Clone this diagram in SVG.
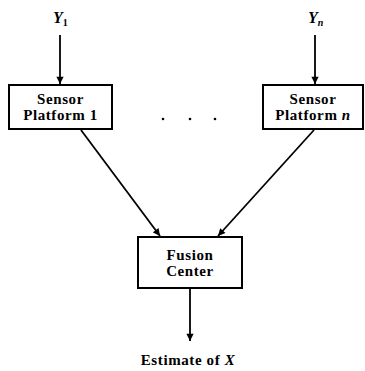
<svg xmlns="http://www.w3.org/2000/svg" width="365" height="371" viewBox="0 0 365 371">
  <style>
    .box { fill: #fff; stroke: #000; stroke-width: 2; }
    .lbl { font-family: "Liberation Serif", "Times New Roman", serif; font-weight: bold; font-size: 15px; letter-spacing: 0.6px; text-anchor: middle; fill: #000; }
    .var { font-family: "Liberation Serif", "Times New Roman", serif; font-weight: bold; font-style: italic; font-size: 16px; fill: #000; }
    .edge { stroke: #000; stroke-width: 1.8; fill: none; marker-end: url(#head); }
  </style>
  <defs>
    <marker id="head" viewBox="0 0 10 10" refX="10" refY="5" markerWidth="4.5" markerHeight="4" markerUnits="strokeWidth" orient="auto">
      <path d="M0,0 L10,5 L0,10 Z" fill="#000"/>
    </marker>
  </defs>

  <!-- inputs -->
  <text class="var" x="53" y="23">Y<tspan font-size="10" dy="3" font-style="normal">1</tspan></text>
  <text class="var" x="308" y="23">Y<tspan font-size="10" dy="3">n</tspan></text>

  <g id="connectors">
    <line class="edge" x1="60" y1="35" x2="60" y2="84"/>
    <line class="edge" x1="315" y1="35" x2="315" y2="84"/>
    <line class="edge" x1="81" y1="130" x2="160" y2="236"/>
    <line class="edge" x1="314" y1="130" x2="218" y2="236"/>
    <line class="edge" x1="190" y1="289" x2="190" y2="341"/>
  </g>

  <g id="sensor1">
    <rect class="box" x="9" y="85" width="103" height="44"/>
    <text class="lbl" x="60.5" y="104">Sensor</text>
    <text class="lbl" x="60.5" y="120">Platform 1</text>
  </g>

  <g id="sensorN">
    <rect class="box" x="263" y="85" width="100" height="44"/>
    <text class="lbl" x="313" y="104">Sensor</text>
    <text class="lbl" x="313" y="120">Platform <tspan font-style="italic">n</tspan></text>
  </g>

  <!-- ellipsis between platforms -->
  <g fill="#000">
    <circle cx="163" cy="119" r="1.3"/>
    <circle cx="190" cy="119" r="1.3"/>
    <circle cx="215" cy="119" r="1.3"/>
  </g>

  <g id="fusion">
    <rect class="box" x="138" y="237" width="104" height="51"/>
    <text class="lbl" x="190" y="260">Fusion</text>
    <text class="lbl" x="190" y="276">Center</text>
  </g>

  <text class="lbl" x="188" y="365">Estimate of <tspan font-style="italic">X</tspan></text>
</svg>
